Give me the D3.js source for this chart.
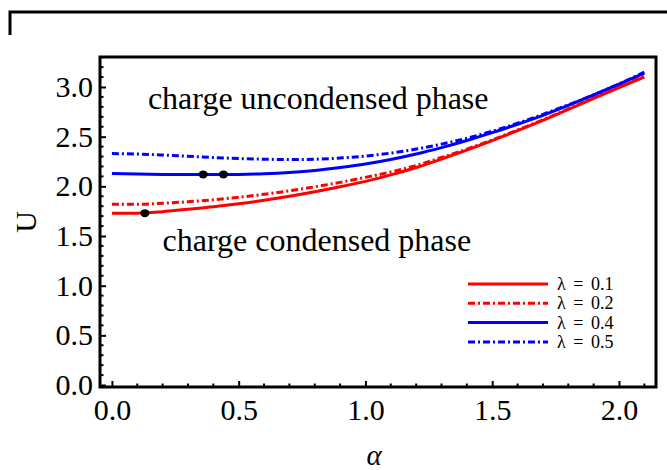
<!DOCTYPE html>
<html>
<head>
<meta charset="utf-8">
<script src="https://cdn.jsdelivr.net/npm/d3@7"></script>
<style>
  body { margin: 0; background: #fff; }
  svg { display: block; font-family: "Liberation Serif", "Times New Roman", serif; }
</style>
</head>
<body>
<svg id="chart" width="667" height="470"></svg>
<script>
// alpha grid shared by every curve
const alphas = [0, 0.1, 0.2, 0.3, 0.4, 0.5, 0.6, 0.7, 0.8, 0.9, 1.0, 1.1, 1.2, 1.3, 1.4, 1.5, 1.6, 1.7, 1.8, 1.9, 2.0, 2.1]

const u01 = [1.73, 1.73, 1.745, 1.77, 1.795, 1.825, 1.86, 1.90, 1.945, 1.995, 2.05, 2.115, 2.19, 2.275, 2.365, 2.46, 2.56, 2.665, 2.775, 2.885, 2.995, 3.10]
const u02 = [1.82, 1.82, 1.83, 1.845, 1.865, 1.89, 1.92, 1.955, 1.995, 2.04, 2.09, 2.145, 2.21, 2.29, 2.375, 2.468, 2.567, 2.67, 2.78, 2.89, 3.00, 3.11]
const u04 = [2.13, 2.125, 2.12, 2.118, 2.118, 2.12, 2.127, 2.14, 2.16, 2.19, 2.225, 2.27, 2.325, 2.39, 2.462, 2.54, 2.625, 2.715, 2.815, 2.92, 3.03, 3.14]
const u05 = [2.33, 2.325, 2.315, 2.303, 2.29, 2.28, 2.273, 2.27, 2.273, 2.285, 2.305, 2.335, 2.375, 2.425, 2.485, 2.555, 2.635, 2.725, 2.82, 2.92, 3.03, 3.15]

const seriesNames = ['λ = 0.1', 'λ = 0.2', 'λ = 0.4', 'λ = 0.5']
const seriesColors = ['#ff0000', '#ff0000', '#0000ff', '#0000ff']
const seriesDashed = [false, true, false, true]

// transition points (black dots)
const dotAlpha = [0.13, 0.36, 0.44]
const dotU = [1.73, 2.12, 2.12]

const xMajor = [0, 0.5, 1.0, 1.5, 2.0]
const yMajor = [0, 0.5, 1.0, 1.5, 2.0, 2.5, 3.0]

const svg = d3.select('#chart')
const frame = { left: 100, top: 57, right: 656, bottom: 387 }

const x = d3.scaleLinear().domain([-0.047, 2.146]).range([frame.left, frame.right])
const y = d3.scaleLinear().domain([-0.02, 3.302]).range([frame.bottom, frame.top])

const dash = '7,3,2,3'

// outer corner bracket
svg.append('path')
    .attr('d', 'M10,35V12H667')
    .attr('fill', 'none')
    .attr('stroke', '#000')
    .attr('stroke-width', 3)

svg.append('clipPath').attr('id', 'clip')
    .append('rect')
    .attr('x', frame.left).attr('y', frame.top)
    .attr('width', frame.right - frame.left).attr('height', frame.bottom - frame.top)

// curves
const line = d3.line()
    .x( (d, i) => x(alphas[i]) )
    .y( d => y(d) )
    .curve( d3.curveMonotoneX )

const plot = svg.append('g').attr('clip-path', 'url(#clip)')

;[u01, u02, u04, u05].forEach( (vals, i) => {
    plot.append('path')
        .attr('d', line(vals))
        .attr('fill', 'none')
        .attr('stroke', seriesColors[i])
        .attr('stroke-width', 3)
        .attr('stroke-dasharray', seriesDashed[i] ? dash : null)
} )

plot.selectAll('ellipse.dot')
    .data(dotAlpha)
    .enter().append('ellipse')
    .attr('class', 'dot')
    .attr('cx', d => x(d))
    .attr('cy', (d, i) => y(dotU[i]))
    .attr('rx', 4.5).attr('ry', 4)
    .attr('fill', '#000')

// frame
svg.append('rect')
    .attr('x', frame.left).attr('y', frame.top)
    .attr('width', frame.right - frame.left).attr('height', frame.bottom - frame.top)
    .attr('fill', 'none')
    .attr('stroke', '#000')
    .attr('stroke-width', 3)

// ticks (inward, Mathematica style)
const xMinor = d3.range(0, 2.101, 0.1).filter( v => !xMajor.some( m => Math.abs(m - v) < 1e-6 ) )
const yMinor = d3.range(0, 3.301, 0.1).filter( v => !yMajor.some( m => Math.abs(m - v) < 1e-6 ) )

const xAxis = d3.axisBottom(x).tickValues(xMajor).tickSize(-6).tickPadding(13).tickFormat(d3.format('.1f'))
const yAxis = d3.axisLeft(y).tickValues(yMajor).tickSize(-6).tickPadding(7).tickFormat(d3.format('.1f'))

const gx = svg.append('g').attr('transform', `translate(0,${frame.bottom})`).call(xAxis)
const gy = svg.append('g').attr('transform', `translate(${frame.left},0)`).call(yAxis)

gx.append('g').selectAll('line').data(xMinor).enter().append('line')
    .attr('x1', d => x(d)).attr('x2', d => x(d)).attr('y1', 0).attr('y2', -3.5)
gy.append('g').selectAll('line').data(yMinor).enter().append('line')
    .attr('y1', d => y(d)).attr('y2', d => y(d)).attr('x1', 0).attr('x2', 3.5)

;[gx, gy].forEach( g => {
    g.select('.domain').remove()
    g.selectAll('line').attr('stroke', '#000').attr('stroke-width', 2)
    g.selectAll('text')
        .attr('fill', '#000')
        .style('font-family', '"Liberation Serif", "Times New Roman", serif')
        .style('font-size', '30px')
} )
gx.selectAll('text').attr('dy', '0.68em')

// axis titles
svg.append('text')
    .attr('transform', 'translate(36,222) rotate(-90)')
    .attr('text-anchor', 'middle')
    .style('font-size', '30px')
    .text('U')

svg.append('text')
    .attr('x', 374).attr('y', 465)
    .attr('text-anchor', 'middle')
    .style('font-size', '29px')
    .style('font-style', 'italic')
    .text('α')

// phase annotations
svg.append('text')
    .attr('x', x(0.142)).attr('y', y(2.78))
    .style('font-size', '32px')
    .text('charge uncondensed phase')

svg.append('text')
    .attr('x', x(0.2)).attr('y', y(1.35))
    .style('font-size', '32px')
    .text('charge condensed phase')

// legend
const legend = svg.append('g').attr('transform', 'translate(468,284)')
seriesNames.forEach( (name, i) => {
    const row = legend.append('g').attr('transform', `translate(0,${i * 19.3})`)
    row.append('line')
        .attr('x1', 0).attr('x2', 80).attr('y1', 0).attr('y2', 0)
        .attr('stroke', seriesColors[i])
        .attr('stroke-width', 3)
        .attr('stroke-dasharray', seriesDashed[i] ? dash : null)
    row.append('text')
        .attr('x', 89).attr('y', 6)
        .style('font-size', '18px')
        .style('word-spacing', '3px')
        .text(name)
} )
</script>
</body>
</html>
